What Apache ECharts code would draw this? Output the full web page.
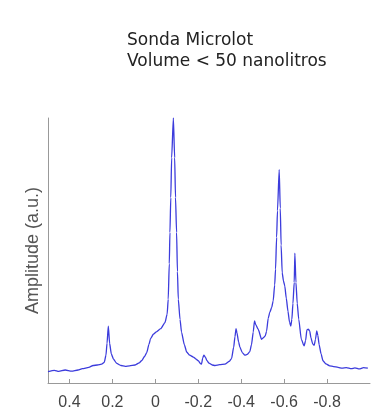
<!DOCTYPE html>
<html>
<head>
<meta charset="utf-8">
<script src="https://cdn.jsdelivr.net/npm/echarts@6/dist/echarts.min.js"></script>
<style>html,body{margin:0;padding:0;background:#fff;}#c{width:374px;height:411px;}</style>
</head>
<body>
<div id="c"></div>
<script>
var titleLines = ['Sonda Microlot', 'Volume < 50 nanolitros'];
var yAxisName = 'Amplitude (a.u.)';
var xTicks = [0.4, 0.2, 0, -0.2, -0.4, -0.6, -0.8];
var shift = [0.50,0.47,0.45,0.42,0.39,0.36,0.34,0.31,0.29,0.27,0.25,0.238,0.230,0.225,0.219,0.213,0.205,0.195,0.18,0.16,0.14,0.12,0.094,0.075,0.064,0.05,0.040,0.030,0.022,0.009,-0.005,-0.025,-0.045,-0.055,-0.060,-0.065,-0.068,-0.072,-0.076,-0.084,-0.090,-0.094,-0.099,-0.103,-0.107,-0.115,-0.122,-0.135,-0.146,-0.16,-0.177,-0.19,-0.200,-0.210,-0.215,-0.221,-0.226,-0.233,-0.24,-0.25,-0.265,-0.278,-0.30,-0.324,-0.345,-0.355,-0.365,-0.371,-0.376,-0.380,-0.388,-0.394,-0.405,-0.417,-0.428,-0.440,-0.448,-0.456,-0.462,-0.468,-0.479,-0.495,-0.505,-0.512,-0.518,-0.526,-0.533,-0.542,-0.549,-0.556,-0.560,-0.565,-0.569,-0.577,-0.582,-0.586,-0.591,-0.597,-0.603,-0.610,-0.618,-0.625,-0.631,-0.636,-0.641,-0.647,-0.650,-0.655,-0.661,-0.668,-0.680,-0.693,-0.700,-0.706,-0.712,-0.719,-0.725,-0.733,-0.740,-0.746,-0.752,-0.757,-0.763,-0.772,-0.781,-0.795,-0.812,-0.83,-0.851,-0.87,-0.89,-0.913,-0.93,-0.95,-0.97,-0.99];
var amplitude = [4.3,4.8,4.4,4.9,4.5,4.9,5.4,5.9,6.6,6.8,7.1,7.8,10.5,15,21.5,15,11,9.0,7.4,6.6,6.3,6.5,6.8,7.6,8.4,10,11.5,14.5,16.8,18.4,19.3,20.5,22.8,26,31.6,45,56.8,70,85,100,85,70,56.8,42,31.6,24,19.2,14.5,11.7,10.5,9.8,9.0,8.4,7.3,7.1,9.5,10.5,9.8,8.5,7.5,6.8,6.6,6.9,7.1,8.2,9.2,13.5,17.5,20.5,19,15.5,13.5,11.5,10.5,10.8,11.8,14.5,19.2,23.4,22,20.3,16.5,17.2,17.8,19.5,24.5,26.6,28.5,31,37,43,55,65,80.5,66,52,41.6,38.5,36.6,32,27,23,21.5,24,30,38,49,38,30,24.1,16.5,14,16,20,20.3,19.7,17,14.8,14.2,16.5,19.7,18,14.5,11,8.4,7.2,6.5,6.2,5.9,5.6,5.8,5.4,5.7,5.3,5.8,5.6];

var pts = shift.map(function(s, i){ return [s, amplitude[i]]; });
var chart = echarts.init(document.getElementById('c'), null, {renderer:'canvas'});
chart.setOption({
  animation: false,
  backgroundColor: '#ffffff',
  title: {
    text: titleLines.join('\n'),
    left: 122, top: 25,
    textStyle: {fontFamily: 'DejaVu Sans', fontSize: 17, fontWeight: 'normal', color: '#222', lineHeight: 21}
  },
  grid: {left: 48, right: 4, top: 118, bottom: 27},
  xAxis: {
    type: 'value', inverse: true, min: -1, max: 0.5, interval: 0.2,
    axisLine: {onZero: false, lineStyle: {color: '#999', width: 1}},
    axisTick: {inside: true, length: 4, lineStyle: {color: '#999'}},
    splitLine: {show: false},
    axisLabel: {
      color: '#444', fontSize: 16, fontFamily: 'Liberation Sans', margin: 12,
      showMinLabel: false, showMaxLabel: false,
      formatter: function(v){
        var r = Math.round(v*10)/10;
        for (var i=0;i<xTicks.length;i++){ if (Math.abs(xTicks[i]-r)<1e-6) return String(xTicks[i]); }
        return '';
      }
    }
  },
  yAxis: {
    type: 'value', min: 0, max: 100, position: 'left',
    name: yAxisName, nameLocation: 'middle', nameGap: 6,
    nameTextStyle: {color: '#555', fontSize: 18, fontFamily: 'Liberation Sans'},
    axisLine: {show: true, onZero: false, lineStyle: {color: '#999', width: 1}},
    axisTick: {show: false}, axisLabel: {show: false}, splitLine: {show: false}
  },
  series: [{
    type: 'line', data: pts, showSymbol: false, symbol: 'none',
    smooth: 0.2, smoothMonotone: 'x',
    lineStyle: {color: '#3c3cdc', width: 1.3}
  }]
});
</script>
</body>
</html>
